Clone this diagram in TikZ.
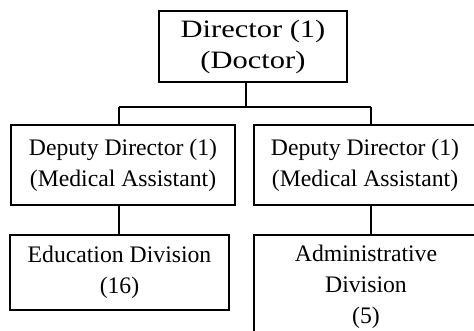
\documentclass[tikz,border=0pt]{standalone}
\usepackage{fontspec}
\setmainfont{Liberation Serif}
\newfontfamily\widefont[FakeStretch=1.22]{Liberation Serif}
\tikzset{
  box/.style={draw=black, line width=1.3pt, inner sep=0pt, align=center, text=black},
  topfont/.style={font=\widefont\fontsize{25}{31}\selectfont},
  lowfont/.style={font=\fontsize{23.7}{31}\selectfont},
  conn/.style={draw=black, line width=1.3pt}
}
\begin{document}
\begin{tikzpicture}[x=1pt,y=-1pt]
\useasboundingbox (0,0) rectangle (474,331);
\clip (0,0) rectangle (474,331);
\fill[white] (0,0) rectangle (474,331);
\node[box, topfont, minimum width=188pt, minimum height=71pt] (dir) at (253,46.5) {Director (1)\\(Doctor)};
\node[box, lowfont, minimum width=224pt, minimum height=80pt] (ldep) at (123,165) {Deputy Director (1)\\(Medical Assistant)};
\node[box, lowfont, minimum width=222pt, minimum height=80pt] (rdep) at (365,165) {Deputy Director (1)\\(Medical Assistant)};
\node[box, lowfont, minimum width=219pt, minimum height=75pt] (edu) at (119.5,272.5) {Education Division\\(16)};
\node[box, lowfont, minimum width=224pt, minimum height=104pt] (adm) at (366,287) {Administrative\\Division\\(5)};
\coordinate (j) at (246,107);
\coordinate (jl) at (119,107);
\coordinate (jr) at (371,107);
\draw[conn] (dir.south -| j) -- (j);
\draw[conn] (jl) -- (jr);
\draw[conn] (jl) -- (jl |- ldep.north);
\draw[conn] (jr) -- (jr |- rdep.north);
\draw[conn] (jl |- ldep.south) -- (jl |- edu.north);
\draw[conn] (jr |- rdep.south) -- (jr |- adm.north);
\end{tikzpicture}
\end{document}
